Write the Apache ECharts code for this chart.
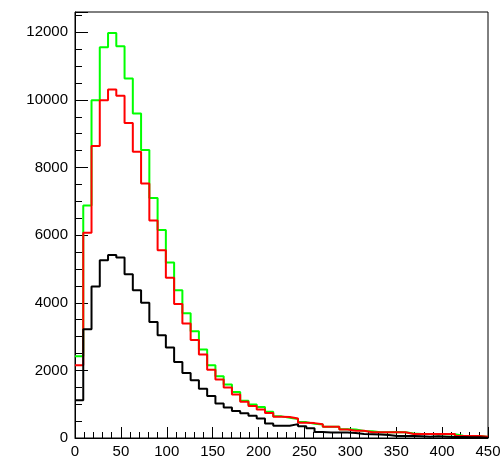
<!DOCTYPE html>
<html>
<head>
<meta charset="utf-8">
<script src="https://cdn.jsdelivr.net/npm/echarts@6/dist/echarts.min.js"></script>
<style>
html,body{margin:0;padding:0;background:#fff;}
#chart{width:504px;height:459px;}
</style>
</head>
<body>
<div id="chart"></div>
<script>
// Histogram: 50 bins from 0 to 450 (bin width 9)
var binWidth = 9;
var xMax = 450;
var xTicks = [0, 50, 100, 150, 200, 250, 300, 350, 400, 450];
var yTicks = [0, 2000, 4000, 6000, 8000, 10000, 12000];

var greenCounts = [2420, 6880, 9990, 11560, 11980, 11590, 10630, 9600, 8520, 7100,
  6150, 5190, 4370, 3690, 3160, 2620, 2150, 1830, 1580, 1360,
  1100, 990, 920, 780, 640, 600, 560, 470, 420, 400,
  330, 330, 260, 250, 210, 200, 170, 170, 180, 170,
  130, 120, 120, 110, 120, 110, 70, 60, 60, 30];
var redCounts = [2150, 6070, 8640, 9990, 10310, 10120, 9320, 8470, 7530, 6430,
  5550, 4740, 3960, 3390, 2900, 2470, 2020, 1730, 1490, 1290,
  1070, 950, 840, 740, 630, 620, 580, 450, 440, 410,
  330, 330, 250, 215, 215, 170, 170, 170, 170, 170,
  120, 120, 120, 120, 120, 120, 60, 60, 60, 40];
var blackCounts = [1120, 3220, 4480, 5260, 5410, 5340, 4840, 4370, 4000, 3430,
  3040, 2680, 2250, 1920, 1710, 1460, 1240, 1020, 900, 800,
  730, 660, 580, 430, 360, 360, 410, 350, 290, 180,
  160, 160, 160, 150, 120, 110, 100, 90, 60, 60,
  60, 50, 40, 50, 40, 30, 30, 20, 20, 10];

function stepData(counts) {
  var d = [];
  for (var i = 0; i < counts.length; i++) d.push([i * binWidth, counts[i]]);
  d.push([counts.length * binWidth, counts[counts.length - 1]]);
  return d;
}

function histSeries(name, counts, color) {
  return {
    name: name, type: 'line', step: 'end', data: stepData(counts),
    showSymbol: false, symbol: 'none', clip: true,
    lineStyle: { color: color, width: 2 }, z: 3
  };
}

var chart = echarts.init(document.getElementById('chart'), null, { renderer: 'canvas' });
var labelFont = { fontFamily: 'Liberation Sans, Arial, sans-serif', fontSize: 15, color: '#000' };

chart.setOption({
  animation: false,
  backgroundColor: '#fff',
  grid: { left: 75, right: 16, top: 12, bottom: 21, show: true, borderColor: '#000', borderWidth: 1, backgroundColor: 'transparent' },
  xAxis: {
    type: 'value', min: 0, max: xMax, interval: 50,
    axisLine: { show: true, onZero: false, lineStyle: { color: '#000', width: 1 } },
    axisTick: { show: true, inside: true, length: 11, lineStyle: { color: '#000', width: 1 } },
    minorTick: { show: true, splitNumber: 5, length: 6, lineStyle: { color: '#000', width: 1 } },
    splitLine: { show: false },
    axisLabel: Object.assign({ margin: 6, showMinLabel: true, showMaxLabel: true,
      formatter: function (v) { return xTicks.indexOf(v) >= 0 ? String(v) : ''; } }, labelFont)
  },
  yAxis: {
    type: 'value', min: 0, max: 12600, interval: 2000,
    axisLine: { show: true, lineStyle: { color: '#000', width: 1 } },
    axisTick: { show: true, inside: true, length: 13, lineStyle: { color: '#000', width: 1 } },
    minorTick: { show: true, splitNumber: 4, length: 7, lineStyle: { color: '#000', width: 1 } },
    splitLine: { show: false },
    axisLabel: Object.assign({ margin: 7, showMaxLabel: false,
      formatter: function (v) { return yTicks.indexOf(v) >= 0 ? String(v) : ''; } }, labelFont)
  },
  series: [
    histSeries('green', greenCounts, '#00ff00'),
    histSeries('red', redCounts, '#ff0000'),
    histSeries('black', blackCounts, '#000000')
  ]
});
</script>
</body>
</html>
